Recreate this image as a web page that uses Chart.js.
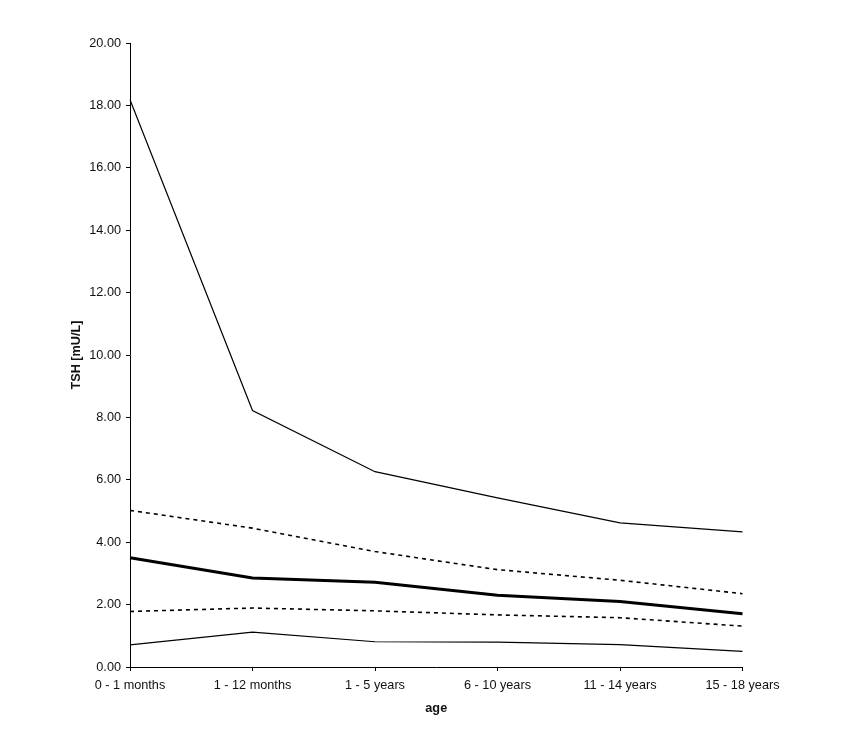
<!DOCTYPE html>
<html>
<head>
<meta charset="utf-8">
<script src="https://cdn.jsdelivr.net/npm/chart.js@4"></script>
<style>
html,body{margin:0;padding:0;background:#fff;}
#wrap{width:852px;height:729px;}
</style>
</head>
<body>
<div id="wrap"><canvas id="c" width="852" height="729"></canvas></div>
<script>
const categories = ["0 - 1 months","1 - 12 months","1 - 5 years","6 - 10 years","11 - 14 years","15 - 18 years"];
const upperLimit = [18.18, 8.22, 6.26, 5.42, 4.62, 4.33];
const upperQuartile = [5.02, 4.45, 3.70, 3.12, 2.78, 2.35];
const median = [3.50, 2.85, 2.72, 2.30, 2.10, 1.71];
const lowerQuartile = [1.78, 1.89, 1.80, 1.67, 1.58, 1.31];
const lowerLimit = [0.71, 1.12, 0.81, 0.80, 0.72, 0.50];
const yTicks = [0,2,4,6,8,10,12,14,16,18,20];

Chart.defaults.font.family = '"Liberation Sans", Arial, sans-serif';
Chart.defaults.font.size = 12.7;
Chart.defaults.color = '#111';

function ds(label, data, width, dash){
  return {label, data, borderColor:'#000', backgroundColor:'#000', borderWidth:width,
    borderDash:dash, pointRadius:0, tension:0, fill:false};
}

new Chart(document.getElementById('c'), {
  type:'line',
  data:{
    labels:categories,
    datasets:[
      ds('upper', upperLimit, 1.2, []),
      ds('q3', upperQuartile, 1.6, [4,4]),
      ds('median', median, 3, []),
      ds('q1', lowerQuartile, 1.6, [4,4]),
      ds('lower', lowerLimit, 1.2, [])
    ]
  },
  options:{
    responsive:false,
    animation:false,
    plugins:{legend:{display:false}, tooltip:{enabled:false}},
    layout:{padding:{left:65, top:43, right:109.5, bottom:0}},
    scales:{
      x:{
        offset:false,
        grid:{drawOnChartArea:false, drawTicks:true, tickLength:4, color:'#000'},
        border:{display:true, color:'#000', width:1},
        ticks:{padding:7, maxRotation:0, autoSkip:false},
        title:{display:true, text:'age', font:{weight:'bold', size:12.7}, padding:{top:4, bottom:13}},
        afterFit:(s)=>{ s.height = 62; }
      },
      y:{
        min:0, max:20,
        afterBuildTicks:(s)=>{ s.ticks = yTicks.map(v=>({value:v})); },
        grid:{drawOnChartArea:false, drawTicks:true, tickLength:4, color:'#000'},
        border:{display:true, color:'#000', width:1},
        ticks:{padding:5, callback:(v)=>Number(v).toFixed(2)},
        title:{display:true, text:'TSH [mU/L]', font:{weight:'bold', size:12.7}, padding:{top:4, bottom:4}},
        afterFit:(s)=>{ s.width = 65; }
      }
    }
  }
});
</script>
</body>
</html>
